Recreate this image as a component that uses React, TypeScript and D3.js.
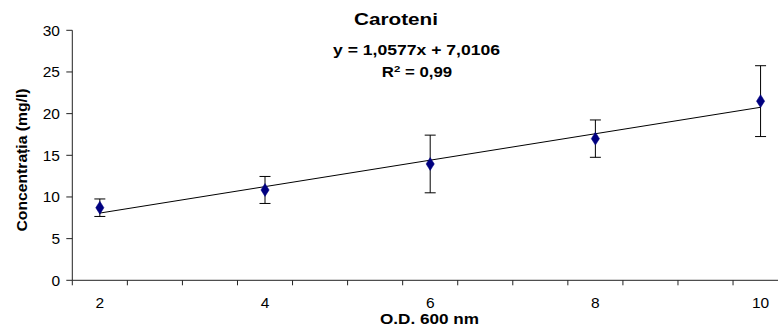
import React from "react";
import * as d3 from "d3";

// ---- data ----
const odLabels = ["2", "4", "6", "8", "10"];
const categoryIndex = [1, 4, 7, 10, 13];
const concentration = [8.71, 10.84, 13.96, 17.0, 21.5];
const errorValues = [1.05, 1.62, 3.46, 2.24, 4.25];
const trendSlope = 1.0577;
const trendIntercept = 7.0106;
const yTicks = [0, 5, 10, 15, 20, 25, 30];
const categoryBoundaries = [0.5, 1.5, 2.5, 3.5, 4.5, 5.5, 6.5, 7.5, 8.5, 9.5, 10.5, 11.5, 12.5, 13.5];

const W = 778;
const H = 328;

export default function App() {
  const x = d3.scaleLinear().domain([0.5, 13.5]).range([72.3, 788.1]);
  const y = d3.scaleLinear().domain([0, 30]).range([280.3, 30.3]);
  const font = "Arial, 'Liberation Sans', sans-serif";

  const trendLine = d3
    .line<number>()
    .x((c) => x(c))
    .y((c) => y(trendSlope * c + trendIntercept));
  const trendPts = [categoryIndex[0], categoryIndex[categoryIndex.length - 1]];

  const diamond = d3.symbol().type(d3.symbolDiamond).size(48)();

  return (
    <svg
      width={W}
      height={H}
      style={{ position: "absolute", left: 0, top: 0, background: "#fff" }}
      fontFamily={font}
    >
      {/* title */}
      <text x={396} y={25} textAnchor="middle" fontSize={16.5} fontWeight="bold" textLength={84} lengthAdjust="spacingAndGlyphs">
        Caroteni
      </text>
      <text x={416.5} y={55} textAnchor="middle" fontSize={14} fontWeight="bold" textLength={167} lengthAdjust="spacingAndGlyphs">
        y = 1,0577x + 7,0106
      </text>
      <g transform="translate(417,77) scale(1.2,1)">
        <text x={0} y={0} textAnchor="middle" fontWeight="bold" fontSize={14}>
          <tspan fontSize={14}>R</tspan>
          <tspan fontSize={9.5} dy={-5.5}>2</tspan>
          <tspan fontSize={14} dy={5.5}> = 0,99</tspan>
        </text>
      </g>

      {/* y axis */}
      <line x1={x(0.5)} x2={x(0.5)} y1={y(30)} y2={y(0)} stroke="#222" strokeWidth={1} />
      {yTicks.map((t) => (
        <g key={"y" + t}>
          <line x1={x(0.5) - 6} x2={x(0.5)} y1={y(t)} y2={y(t)} stroke="#222" />
          <text x={60} y={y(t) + 5.5} textAnchor="end" fontSize={15.5}>
            {t}
          </text>
        </g>
      ))}

      {/* x axis */}
      <line x1={x(0.5)} x2={W} y1={y(0)} y2={y(0)} stroke="#222" />
      {categoryBoundaries.map((c) => (
        <line key={"xt" + c} x1={x(c)} x2={x(c)} y1={y(0)} y2={y(0) + 5} stroke="#222" />
      ))}
      {odLabels.map((l, i) => (
        <text key={"xl" + l} x={x(categoryIndex[i])} y={307.8} textAnchor="middle" fontSize={15.5}>
          {l}
        </text>
      ))}

      {/* axis titles */}
      <text x={429.5} y={324} textAnchor="middle" fontSize={14} fontWeight="bold" textLength={99} lengthAdjust="spacingAndGlyphs">
        O.D. 600 nm
      </text>
      <text
        transform={`translate(26.5,160) rotate(-90)`}
        textAnchor="middle"
        fontSize={14}
        fontWeight="bold"
        textLength={143}
        lengthAdjust="spacingAndGlyphs"
      >
        Concentrația (mg/l)
      </text>

      {/* trend line */}
      <path d={trendLine(trendPts) || ""} fill="none" stroke="#000" strokeWidth={1} />

      {/* error bars */}
      {categoryIndex.map((c, i) => {
        const cx = x(c);
        const top = y(concentration[i] + errorValues[i]);
        const bot = y(concentration[i] - errorValues[i]);
        return (
          <g key={"e" + i} stroke="#000" strokeWidth={1}>
            <line x1={cx} x2={cx} y1={top} y2={bot} />
            <line x1={cx - 5.5} x2={cx + 5.5} y1={top} y2={top} />
            <line x1={cx - 5.5} x2={cx + 5.5} y1={bot} y2={bot} />
          </g>
        );
      })}

      {/* markers */}
      {categoryIndex.map((c, i) => (
        <path
          key={"m" + i}
          d={diamond || ""}
          transform={`translate(${x(c)},${y(concentration[i])}) scale(1.1,1)`}
          fill="#000080"
          stroke="#000080"
          strokeWidth={0.5}
        />
      ))}
    </svg>
  );
}
